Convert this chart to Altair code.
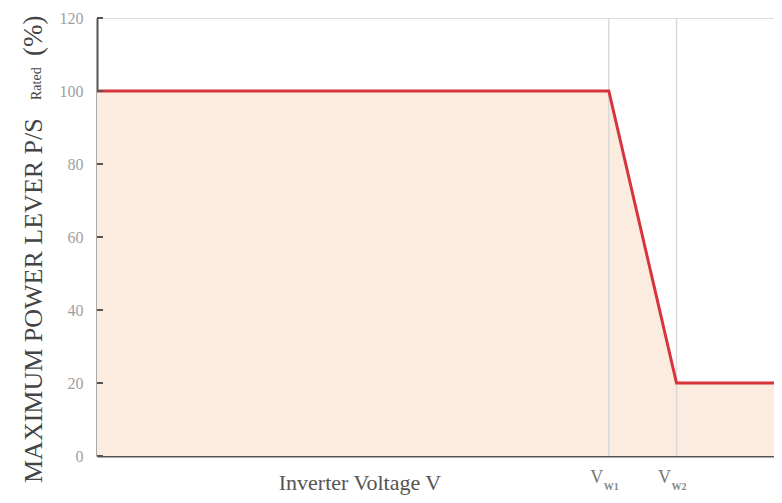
import altair as alt
import pandas as pd

# data
volt_x = [0, 75.6, 85.6, 100]
power_y = [100, 100, 20, 20]
y_ticks = [0, 20, 40, 60, 80, 100, 120]
v_marks = [75.6, 85.6]
v_subs = ["W1", "W2"]

FONT = "Liberation Serif"
line_df = pd.DataFrame({"x": volt_x, "y": power_y})
vm_df = pd.DataFrame({"x": v_marks, "sub": v_subs, "v": ["V", "V"]})
tick_df = pd.DataFrame({"y": y_ticks})

W, H = 677, 438
xs = alt.Scale(domain=[0, 100], nice=False, zero=True)
ys = alt.Scale(domain=[0, 120], nice=False)

area = alt.Chart(line_df).mark_area(color="#FCEBDF", opacity=1).encode(
    x=alt.X("x:Q", scale=xs, axis=alt.Axis(labels=False, ticks=False, grid=False, title=None,
                                           domainColor="#555555", domainWidth=2)),
    y=alt.Y("y:Q", scale=ys, axis=alt.Axis(values=y_ticks, ticks=False, grid=False, title=None,
                                           domainColor="#555555", domainWidth=2,
                                           labelFont=FONT, labelFontSize=16, labelColor="#a0a0a0",
                                           labelPadding=14)),
)

vgrid = alt.Chart(vm_df).mark_rule(color="#d9d9d9", strokeWidth=1.5).encode(
    x=alt.X("x:Q", scale=xs), y=alt.value(0), y2=alt.value(H)
)

line = alt.Chart(line_df).mark_line(color="#D8343E", strokeWidth=3).encode(
    x=alt.X("x:Q", scale=xs), y=alt.Y("y:Q", scale=ys)
)

yticks = alt.Chart(tick_df).mark_rule(color="#555555", strokeWidth=2).encode(
    y=alt.Y("y:Q", scale=ys), x=alt.value(0), x2=alt.value(6)
)

vlab = alt.Chart(vm_df).mark_text(font=FONT, fontSize=18, color="#777777", align="center",
                                  baseline="alphabetic", dx=-12).encode(
    x=alt.X("x:Q", scale=xs), y=alt.value(465), text="v:N"
)
vsub = alt.Chart(vm_df).mark_text(font=FONT, fontSize=10, fontWeight="bold", color="#888888",
                                  align="left", baseline="alphabetic", dx=-5).encode(
    x=alt.X("x:Q", scale=xs), y=alt.value(472), text="sub:N"
)

title_df = pd.DataFrame({"t": ["x"]})
xtitle = alt.Chart(title_df).mark_text(font=FONT, fontSize=22, color="#555555", align="center",
                                       baseline="alphabetic", text="Inverter Voltage V").encode(
    x=alt.value(263), y=alt.value(472)
)
yt1 = alt.Chart(title_df).mark_text(font=FONT, fontSize=26, color="#444444", align="left",
                                    baseline="alphabetic", angle=270,
                                    text="MAXIMUM POWER LEVER P/S").encode(
    x=alt.value(-55), y=alt.value(465)
)
yt2 = alt.Chart(title_df).mark_text(font=FONT, fontSize=14, color="#444444", align="left",
                                    baseline="alphabetic", angle=270, text="Rated").encode(
    x=alt.value(-56), y=alt.value(82)
)
yt3 = alt.Chart(title_df).mark_text(font=FONT, fontSize=27, color="#444444", align="left",
                                    baseline="alphabetic", angle=270, text="(%)").encode(
    x=alt.value(-55), y=alt.value(38)
)

chart = alt.layer(area, vgrid, line, yticks, vlab, vsub, xtitle, yt1, yt2, yt3).properties(
    width=W, height=H,
    autosize=alt.AutoSizeParams(type="none"),
    padding={"left": 89, "top": 10, "right": 0, "bottom": 39},
).configure_view(stroke=None).configure(background="white")

chart.save("out.html", embed_options={"renderer": "svg", "actions": False})
